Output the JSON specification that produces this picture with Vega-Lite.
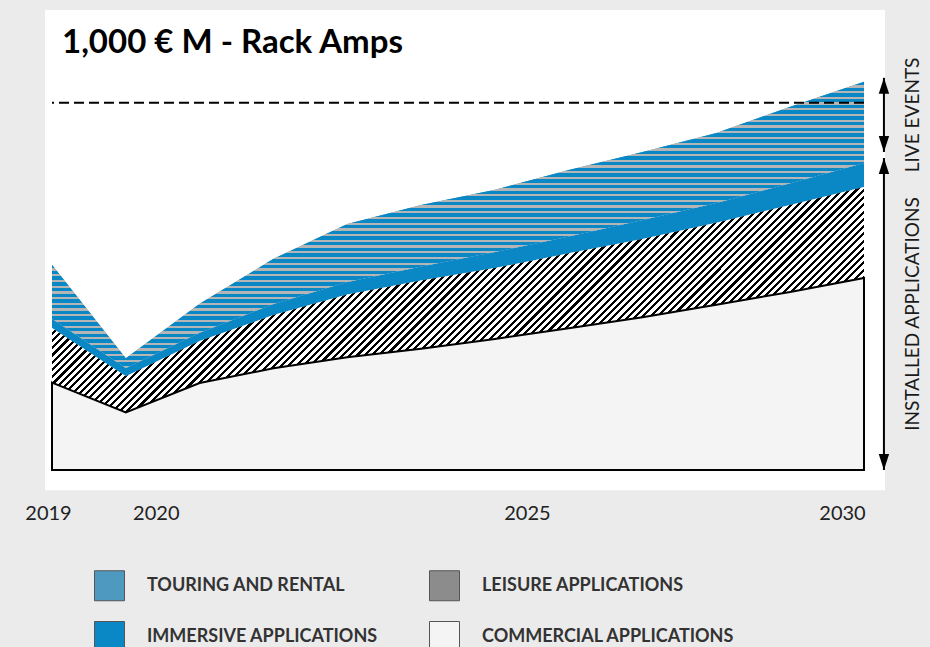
{
"$schema": "https://vega.github.io/schema/vega-lite/v6.json",
"width": 812,
"height": 459,
"autosize": {"type": "none"},
"padding": {"left": 52, "top": 11, "right": 66, "bottom": 177},
"background": "#ebebeb",
"title": {"text": "1,000 € M - Rack Amps", "anchor": "start", "frame": "group", "orient": "top", "font": "Lato", "fontSize": 33, "fontWeight": "bold", "color": "#000000", "offset": 0, "baseline": "alphabetic", "dx": 10, "dy": 76},
"config": {"view": {"stroke": null}, "font": "Lato"},
"resolve": {"axis": {"x": "independent", "y": "independent"}},
"datasets": {
"main": [
{"year": 2019, "series": "COMMERCIAL APPLICATIONS", "rank": 1, "value": 238},
{"year": 2019, "series": "LEISURE APPLICATIONS", "rank": 2, "value": 149},
{"year": 2019, "series": "IMMERSIVE APPLICATIONS", "rank": 3, "value": 25},
{"year": 2019, "series": "TOURING AND RENTAL", "rank": 4, "value": 147},
{"year": 2020, "series": "COMMERCIAL APPLICATIONS", "rank": 1, "value": 157},
{"year": 2020, "series": "LEISURE APPLICATIONS", "rank": 2, "value": 98},
{"year": 2020, "series": "IMMERSIVE APPLICATIONS", "rank": 3, "value": 23},
{"year": 2020, "series": "TOURING AND RENTAL", "rank": 4, "value": 26},
{"year": 2021, "series": "COMMERCIAL APPLICATIONS", "rank": 1, "value": 237},
{"year": 2021, "series": "LEISURE APPLICATIONS", "rank": 2, "value": 114},
{"year": 2021, "series": "IMMERSIVE APPLICATIONS", "rank": 3, "value": 23},
{"year": 2021, "series": "TOURING AND RENTAL", "rank": 4, "value": 79},
{"year": 2022, "series": "COMMERCIAL APPLICATIONS", "rank": 1, "value": 277},
{"year": 2022, "series": "LEISURE APPLICATIONS", "rank": 2, "value": 145},
{"year": 2022, "series": "IMMERSIVE APPLICATIONS", "rank": 3, "value": 30},
{"year": 2022, "series": "TOURING AND RENTAL", "rank": 4, "value": 123},
{"year": 2023, "series": "COMMERCIAL APPLICATIONS", "rank": 1, "value": 307},
{"year": 2023, "series": "LEISURE APPLICATIONS", "rank": 2, "value": 171},
{"year": 2023, "series": "IMMERSIVE APPLICATIONS", "rank": 3, "value": 34},
{"year": 2023, "series": "TOURING AND RENTAL", "rank": 4, "value": 158},
{"year": 2024, "series": "COMMERCIAL APPLICATIONS", "rank": 1, "value": 330},
{"year": 2024, "series": "LEISURE APPLICATIONS", "rank": 2, "value": 186},
{"year": 2024, "series": "IMMERSIVE APPLICATIONS", "rank": 3, "value": 38},
{"year": 2024, "series": "TOURING AND RENTAL", "rank": 4, "value": 168},
{"year": 2025, "series": "COMMERCIAL APPLICATIONS", "rank": 1, "value": 357},
{"year": 2025, "series": "LEISURE APPLICATIONS", "rank": 2, "value": 193},
{"year": 2025, "series": "IMMERSIVE APPLICATIONS", "rank": 3, "value": 44},
{"year": 2025, "series": "TOURING AND RENTAL", "rank": 4, "value": 169},
{"year": 2026, "series": "COMMERCIAL APPLICATIONS", "rank": 1, "value": 386},
{"year": 2026, "series": "LEISURE APPLICATIONS", "rank": 2, "value": 204},
{"year": 2026, "series": "IMMERSIVE APPLICATIONS", "rank": 3, "value": 46},
{"year": 2026, "series": "TOURING AND RENTAL", "rank": 4, "value": 181},
{"year": 2027, "series": "COMMERCIAL APPLICATIONS", "rank": 1, "value": 416},
{"year": 2027, "series": "LEISURE APPLICATIONS", "rank": 2, "value": 213},
{"year": 2027, "series": "IMMERSIVE APPLICATIONS", "rank": 3, "value": 52},
{"year": 2027, "series": "TOURING AND RENTAL", "rank": 4, "value": 185},
{"year": 2028, "series": "COMMERCIAL APPLICATIONS", "rank": 1, "value": 450},
{"year": 2028, "series": "LEISURE APPLICATIONS", "rank": 2, "value": 223},
{"year": 2028, "series": "IMMERSIVE APPLICATIONS", "rank": 3, "value": 54},
{"year": 2028, "series": "TOURING AND RENTAL", "rank": 4, "value": 191},
{"year": 2029, "series": "COMMERCIAL APPLICATIONS", "rank": 1, "value": 485},
{"year": 2029, "series": "LEISURE APPLICATIONS", "rank": 2, "value": 237},
{"year": 2029, "series": "IMMERSIVE APPLICATIONS", "rank": 3, "value": 59},
{"year": 2029, "series": "TOURING AND RENTAL", "rank": 4, "value": 208},
{"year": 2030, "series": "COMMERCIAL APPLICATIONS", "rank": 1, "value": 523},
{"year": 2030, "series": "LEISURE APPLICATIONS", "rank": 2, "value": 248},
{"year": 2030, "series": "IMMERSIVE APPLICATIONS", "rank": 3, "value": 65},
{"year": 2030, "series": "TOURING AND RENTAL", "rank": 4, "value": 221}
],
"notes": [
{"label": "LIVE EVENTS", "lo": 866, "hi": 1068},
{"label": "INSTALLED APPLICATIONS", "lo": 0, "hi": 850}
]
},
"layer": [
{
"data": {"values": [{}]},
"mark": {"type": "rect", "color": "#ffffff"},
"encoding": {
"x": {"datum": 2018.905, "type": "quantitative", "scale": {"domain": [2019, 2030], "nice": false, "zero": false},
"axis": {"values": [2019, 2020, 2025, 2030], "format": "d", "title": null, "ticks": false, "domain": false, "grid": false, "labelFont": "Lato", "labelFontSize": 20, "labelColor": "#222222", "labelFlush": false, "labelOverlap": false, "labelPadding": 33,
"labelOffset": {"condition": [{"test": "datum.value == 2019", "value": -4}, {"test": "datum.value == 2020", "value": 30}, {"test": "datum.value == 2025", "value": 32}], "value": -22}}},
"x2": {"datum": 2030.284},
"y": {"datum": 1253, "type": "quantitative", "scale": {"domain": [0, 1250], "nice": false, "zero": false}, "axis": null},
"y2": {"datum": -55}
}
},
{
"data": {"name": "main"},
"transform": [{"stack": "value", "groupby": ["year"], "sort": [{"field": "rank", "order": "ascending"}], "as": ["v0", "v1"]}],
"layer": [
{
"mark": {"type": "area", "interpolate": "linear"},
"encoding": {
"x": {"field": "year", "type": "quantitative", "scale": {"domain": [2019, 2030], "nice": false, "zero": false}, "axis": null},
"y": {"field": "v1", "type": "quantitative", "scale": {"domain": [0, 1250], "nice": false, "zero": false}, "axis": null},
"y2": {"field": "v0"},
"color": {"field": "series", "type": "nominal",
"scale": {"domain": ["TOURING AND RENTAL", "IMMERSIVE APPLICATIONS", "LEISURE APPLICATIONS", "COMMERCIAL APPLICATIONS"], "range": ["#4e99bf", "#0a87c5", "#8c8c8c", "#f4f4f4"]},
"legend": {"orient": "none", "legendX": 42, "legendY": 559, "columns": 2, "title": null, "padding": 0, "symbolType": "square", "symbolSize": 900, "symbolStrokeColor": "#555555", "symbolStrokeWidth": 1, "symbolOpacity": 1, "labelFont": "Lato", "labelFontWeight": "bold", "labelFontSize": 18, "labelColor": "#333333", "labelOffset": 22, "labelLimit": 400, "rowPadding": 16, "columnPadding": 49}
}
}
},
{
"transform": [{"filter": "datum.series === 'TOURING AND RENTAL'"}],
"mark": {"type": "area", "interpolate": "linear", "fill": {"gradient": "linear", "x1": 0, "y1": 0, "x2": 0, "y2": 1, "stops": [
{"offset":0,"color":"#0a87c5"},{"offset":0.012,"color":"#0a87c5"},{"offset":0.012,"color":"#b5b5b5"},{"offset":0.02,"color":"#b5b5b5"},
{"offset":0.02,"color":"#0a87c5"},{"offset":0.032,"color":"#0a87c5"},{"offset":0.032,"color":"#b5b5b5"},{"offset":0.04,"color":"#b5b5b5"},
{"offset":0.04,"color":"#0a87c5"},{"offset":0.052,"color":"#0a87c5"},{"offset":0.052,"color":"#b5b5b5"},{"offset":0.06,"color":"#b5b5b5"},
{"offset":0.06,"color":"#0a87c5"},{"offset":0.072,"color":"#0a87c5"},{"offset":0.072,"color":"#b5b5b5"},{"offset":0.08,"color":"#b5b5b5"},
{"offset":0.08,"color":"#0a87c5"},{"offset":0.092,"color":"#0a87c5"},{"offset":0.092,"color":"#b5b5b5"},{"offset":0.1,"color":"#b5b5b5"},
{"offset":0.1,"color":"#0a87c5"},{"offset":0.112,"color":"#0a87c5"},{"offset":0.112,"color":"#b5b5b5"},{"offset":0.12,"color":"#b5b5b5"},
{"offset":0.12,"color":"#0a87c5"},{"offset":0.132,"color":"#0a87c5"},{"offset":0.132,"color":"#b5b5b5"},{"offset":0.14,"color":"#b5b5b5"},
{"offset":0.14,"color":"#0a87c5"},{"offset":0.152,"color":"#0a87c5"},{"offset":0.152,"color":"#b5b5b5"},{"offset":0.16,"color":"#b5b5b5"},
{"offset":0.16,"color":"#0a87c5"},{"offset":0.172,"color":"#0a87c5"},{"offset":0.172,"color":"#b5b5b5"},{"offset":0.18,"color":"#b5b5b5"},
{"offset":0.18,"color":"#0a87c5"},{"offset":0.192,"color":"#0a87c5"},{"offset":0.192,"color":"#b5b5b5"},{"offset":0.2,"color":"#b5b5b5"},
{"offset":0.2,"color":"#0a87c5"},{"offset":0.212,"color":"#0a87c5"},{"offset":0.212,"color":"#b5b5b5"},{"offset":0.22,"color":"#b5b5b5"},
{"offset":0.22,"color":"#0a87c5"},{"offset":0.232,"color":"#0a87c5"},{"offset":0.232,"color":"#b5b5b5"},{"offset":0.24,"color":"#b5b5b5"},
{"offset":0.24,"color":"#0a87c5"},{"offset":0.252,"color":"#0a87c5"},{"offset":0.252,"color":"#b5b5b5"},{"offset":0.26,"color":"#b5b5b5"},
{"offset":0.26,"color":"#0a87c5"},{"offset":0.272,"color":"#0a87c5"},{"offset":0.272,"color":"#b5b5b5"},{"offset":0.28,"color":"#b5b5b5"},
{"offset":0.28,"color":"#0a87c5"},{"offset":0.292,"color":"#0a87c5"},{"offset":0.292,"color":"#b5b5b5"},{"offset":0.3,"color":"#b5b5b5"},
{"offset":0.3,"color":"#0a87c5"},{"offset":0.312,"color":"#0a87c5"},{"offset":0.312,"color":"#b5b5b5"},{"offset":0.32,"color":"#b5b5b5"},
{"offset":0.32,"color":"#0a87c5"},{"offset":0.332,"color":"#0a87c5"},{"offset":0.332,"color":"#b5b5b5"},{"offset":0.34,"color":"#b5b5b5"},
{"offset":0.34,"color":"#0a87c5"},{"offset":0.352,"color":"#0a87c5"},{"offset":0.352,"color":"#b5b5b5"},{"offset":0.36,"color":"#b5b5b5"},
{"offset":0.36,"color":"#0a87c5"},{"offset":0.372,"color":"#0a87c5"},{"offset":0.372,"color":"#b5b5b5"},{"offset":0.38,"color":"#b5b5b5"},
{"offset":0.38,"color":"#0a87c5"},{"offset":0.392,"color":"#0a87c5"},{"offset":0.392,"color":"#b5b5b5"},{"offset":0.4,"color":"#b5b5b5"},
{"offset":0.4,"color":"#0a87c5"},{"offset":0.412,"color":"#0a87c5"},{"offset":0.412,"color":"#b5b5b5"},{"offset":0.42,"color":"#b5b5b5"},
{"offset":0.42,"color":"#0a87c5"},{"offset":0.432,"color":"#0a87c5"},{"offset":0.432,"color":"#b5b5b5"},{"offset":0.44,"color":"#b5b5b5"},
{"offset":0.44,"color":"#0a87c5"},{"offset":0.452,"color":"#0a87c5"},{"offset":0.452,"color":"#b5b5b5"},{"offset":0.46,"color":"#b5b5b5"},
{"offset":0.46,"color":"#0a87c5"},{"offset":0.472,"color":"#0a87c5"},{"offset":0.472,"color":"#b5b5b5"},{"offset":0.48,"color":"#b5b5b5"},
{"offset":0.48,"color":"#0a87c5"},{"offset":0.492,"color":"#0a87c5"},{"offset":0.492,"color":"#b5b5b5"},{"offset":0.5,"color":"#b5b5b5"},
{"offset":0.5,"color":"#0a87c5"},{"offset":0.512,"color":"#0a87c5"},{"offset":0.512,"color":"#b5b5b5"},{"offset":0.52,"color":"#b5b5b5"},
{"offset":0.52,"color":"#0a87c5"},{"offset":0.532,"color":"#0a87c5"},{"offset":0.532,"color":"#b5b5b5"},{"offset":0.54,"color":"#b5b5b5"},
{"offset":0.54,"color":"#0a87c5"},{"offset":0.552,"color":"#0a87c5"},{"offset":0.552,"color":"#b5b5b5"},{"offset":0.56,"color":"#b5b5b5"},
{"offset":0.56,"color":"#0a87c5"},{"offset":0.572,"color":"#0a87c5"},{"offset":0.572,"color":"#b5b5b5"},{"offset":0.58,"color":"#b5b5b5"},
{"offset":0.58,"color":"#0a87c5"},{"offset":0.592,"color":"#0a87c5"},{"offset":0.592,"color":"#b5b5b5"},{"offset":0.6,"color":"#b5b5b5"},
{"offset":0.6,"color":"#0a87c5"},{"offset":0.612,"color":"#0a87c5"},{"offset":0.612,"color":"#b5b5b5"},{"offset":0.62,"color":"#b5b5b5"},
{"offset":0.62,"color":"#0a87c5"},{"offset":0.632,"color":"#0a87c5"},{"offset":0.632,"color":"#b5b5b5"},{"offset":0.64,"color":"#b5b5b5"},
{"offset":0.64,"color":"#0a87c5"},{"offset":0.652,"color":"#0a87c5"},{"offset":0.652,"color":"#b5b5b5"},{"offset":0.66,"color":"#b5b5b5"},
{"offset":0.66,"color":"#0a87c5"},{"offset":0.672,"color":"#0a87c5"},{"offset":0.672,"color":"#b5b5b5"},{"offset":0.68,"color":"#b5b5b5"},
{"offset":0.68,"color":"#0a87c5"},{"offset":0.692,"color":"#0a87c5"},{"offset":0.692,"color":"#b5b5b5"},{"offset":0.7,"color":"#b5b5b5"},
{"offset":0.7,"color":"#0a87c5"},{"offset":0.712,"color":"#0a87c5"},{"offset":0.712,"color":"#b5b5b5"},{"offset":0.72,"color":"#b5b5b5"},
{"offset":0.72,"color":"#0a87c5"},{"offset":0.732,"color":"#0a87c5"},{"offset":0.732,"color":"#b5b5b5"},{"offset":0.74,"color":"#b5b5b5"},
{"offset":0.74,"color":"#0a87c5"},{"offset":0.752,"color":"#0a87c5"},{"offset":0.752,"color":"#b5b5b5"},{"offset":0.76,"color":"#b5b5b5"},
{"offset":0.76,"color":"#0a87c5"},{"offset":0.772,"color":"#0a87c5"},{"offset":0.772,"color":"#b5b5b5"},{"offset":0.78,"color":"#b5b5b5"},
{"offset":0.78,"color":"#0a87c5"},{"offset":0.792,"color":"#0a87c5"},{"offset":0.792,"color":"#b5b5b5"},{"offset":0.8,"color":"#b5b5b5"},
{"offset":0.8,"color":"#0a87c5"},{"offset":0.812,"color":"#0a87c5"},{"offset":0.812,"color":"#b5b5b5"},{"offset":0.82,"color":"#b5b5b5"},
{"offset":0.82,"color":"#0a87c5"},{"offset":0.832,"color":"#0a87c5"},{"offset":0.832,"color":"#b5b5b5"},{"offset":0.84,"color":"#b5b5b5"},
{"offset":0.84,"color":"#0a87c5"},{"offset":0.852,"color":"#0a87c5"},{"offset":0.852,"color":"#b5b5b5"},{"offset":0.86,"color":"#b5b5b5"},
{"offset":0.86,"color":"#0a87c5"},{"offset":0.872,"color":"#0a87c5"},{"offset":0.872,"color":"#b5b5b5"},{"offset":0.88,"color":"#b5b5b5"},
{"offset":0.88,"color":"#0a87c5"},{"offset":0.892,"color":"#0a87c5"},{"offset":0.892,"color":"#b5b5b5"},{"offset":0.9,"color":"#b5b5b5"},
{"offset":0.9,"color":"#0a87c5"},{"offset":0.912,"color":"#0a87c5"},{"offset":0.912,"color":"#b5b5b5"},{"offset":0.92,"color":"#b5b5b5"},
{"offset":0.92,"color":"#0a87c5"},{"offset":0.932,"color":"#0a87c5"},{"offset":0.932,"color":"#b5b5b5"},{"offset":0.94,"color":"#b5b5b5"},
{"offset":0.94,"color":"#0a87c5"},{"offset":0.952,"color":"#0a87c5"},{"offset":0.952,"color":"#b5b5b5"},{"offset":0.96,"color":"#b5b5b5"},
{"offset":0.96,"color":"#0a87c5"},{"offset":0.972,"color":"#0a87c5"},{"offset":0.972,"color":"#b5b5b5"},{"offset":0.98,"color":"#b5b5b5"},
{"offset":0.98,"color":"#0a87c5"},{"offset":0.992,"color":"#0a87c5"},{"offset":0.992,"color":"#b5b5b5"},{"offset":1,"color":"#b5b5b5"}
]}},
"encoding": {
"x": {"field": "year", "type": "quantitative", "scale": {"domain": [2019, 2030], "nice": false, "zero": false}, "axis": null},
"y": {"field": "v1", "type": "quantitative", "scale": {"domain": [0, 1250], "nice": false, "zero": false}, "axis": null},
"y2": {"field": "v0"}
}
},
{
"transform": [{"filter": "datum.series === 'LEISURE APPLICATIONS'"}],
"mark": {"type": "area", "interpolate": "linear", "fill": {"gradient": "linear", "x1": 0, "y1": 0, "x2": 1.1862, "y2": 0.3293, "stops": [
{"offset":0.119,"color":"#000"},{"offset":0.122,"color":"#000"},{"offset":0.122,"color":"#fff"},{"offset":0.126,"color":"#fff"},
{"offset":0.126,"color":"#000"},{"offset":0.129,"color":"#000"},{"offset":0.129,"color":"#fff"},{"offset":0.133,"color":"#fff"},
{"offset":0.133,"color":"#000"},{"offset":0.136,"color":"#000"},{"offset":0.136,"color":"#fff"},{"offset":0.14,"color":"#fff"},
{"offset":0.14,"color":"#000"},{"offset":0.143,"color":"#000"},{"offset":0.143,"color":"#fff"},{"offset":0.147,"color":"#fff"},
{"offset":0.147,"color":"#000"},{"offset":0.15,"color":"#000"},{"offset":0.15,"color":"#fff"},{"offset":0.154,"color":"#fff"},
{"offset":0.154,"color":"#000"},{"offset":0.157,"color":"#000"},{"offset":0.157,"color":"#fff"},{"offset":0.161,"color":"#fff"},
{"offset":0.161,"color":"#000"},{"offset":0.164,"color":"#000"},{"offset":0.164,"color":"#fff"},{"offset":0.168,"color":"#fff"},
{"offset":0.168,"color":"#000"},{"offset":0.171,"color":"#000"},{"offset":0.171,"color":"#fff"},{"offset":0.175,"color":"#fff"},
{"offset":0.175,"color":"#000"},{"offset":0.178,"color":"#000"},{"offset":0.178,"color":"#fff"},{"offset":0.182,"color":"#fff"},
{"offset":0.182,"color":"#000"},{"offset":0.185,"color":"#000"},{"offset":0.185,"color":"#fff"},{"offset":0.189,"color":"#fff"},
{"offset":0.189,"color":"#000"},{"offset":0.192,"color":"#000"},{"offset":0.192,"color":"#fff"},{"offset":0.196,"color":"#fff"},
{"offset":0.196,"color":"#000"},{"offset":0.199,"color":"#000"},{"offset":0.199,"color":"#fff"},{"offset":0.203,"color":"#fff"},
{"offset":0.203,"color":"#000"},{"offset":0.206,"color":"#000"},{"offset":0.206,"color":"#fff"},{"offset":0.21,"color":"#fff"},
{"offset":0.21,"color":"#000"},{"offset":0.213,"color":"#000"},{"offset":0.213,"color":"#fff"},{"offset":0.217,"color":"#fff"},
{"offset":0.217,"color":"#000"},{"offset":0.22,"color":"#000"},{"offset":0.22,"color":"#fff"},{"offset":0.224,"color":"#fff"},
{"offset":0.224,"color":"#000"},{"offset":0.227,"color":"#000"},{"offset":0.227,"color":"#fff"},{"offset":0.231,"color":"#fff"},
{"offset":0.231,"color":"#000"},{"offset":0.234,"color":"#000"},{"offset":0.234,"color":"#fff"},{"offset":0.238,"color":"#fff"},
{"offset":0.238,"color":"#000"},{"offset":0.241,"color":"#000"},{"offset":0.241,"color":"#fff"},{"offset":0.245,"color":"#fff"},
{"offset":0.245,"color":"#000"},{"offset":0.248,"color":"#000"},{"offset":0.248,"color":"#fff"},{"offset":0.252,"color":"#fff"},
{"offset":0.252,"color":"#000"},{"offset":0.255,"color":"#000"},{"offset":0.255,"color":"#fff"},{"offset":0.259,"color":"#fff"},
{"offset":0.259,"color":"#000"},{"offset":0.262,"color":"#000"},{"offset":0.262,"color":"#fff"},{"offset":0.266,"color":"#fff"},
{"offset":0.266,"color":"#000"},{"offset":0.269,"color":"#000"},{"offset":0.269,"color":"#fff"},{"offset":0.273,"color":"#fff"},
{"offset":0.273,"color":"#000"},{"offset":0.276,"color":"#000"},{"offset":0.276,"color":"#fff"},{"offset":0.28,"color":"#fff"},
{"offset":0.28,"color":"#000"},{"offset":0.283,"color":"#000"},{"offset":0.283,"color":"#fff"},{"offset":0.287,"color":"#fff"},
{"offset":0.287,"color":"#000"},{"offset":0.29,"color":"#000"},{"offset":0.29,"color":"#fff"},{"offset":0.294,"color":"#fff"},
{"offset":0.294,"color":"#000"},{"offset":0.297,"color":"#000"},{"offset":0.297,"color":"#fff"},{"offset":0.301,"color":"#fff"},
{"offset":0.301,"color":"#000"},{"offset":0.304,"color":"#000"},{"offset":0.304,"color":"#fff"},{"offset":0.308,"color":"#fff"},
{"offset":0.308,"color":"#000"},{"offset":0.311,"color":"#000"},{"offset":0.311,"color":"#fff"},{"offset":0.315,"color":"#fff"},
{"offset":0.315,"color":"#000"},{"offset":0.318,"color":"#000"},{"offset":0.318,"color":"#fff"},{"offset":0.322,"color":"#fff"},
{"offset":0.322,"color":"#000"},{"offset":0.325,"color":"#000"},{"offset":0.325,"color":"#fff"},{"offset":0.329,"color":"#fff"},
{"offset":0.329,"color":"#000"},{"offset":0.332,"color":"#000"},{"offset":0.332,"color":"#fff"},{"offset":0.336,"color":"#fff"},
{"offset":0.336,"color":"#000"},{"offset":0.339,"color":"#000"},{"offset":0.339,"color":"#fff"},{"offset":0.343,"color":"#fff"},
{"offset":0.343,"color":"#000"},{"offset":0.346,"color":"#000"},{"offset":0.346,"color":"#fff"},{"offset":0.35,"color":"#fff"},
{"offset":0.35,"color":"#000"},{"offset":0.353,"color":"#000"},{"offset":0.353,"color":"#fff"},{"offset":0.357,"color":"#fff"},
{"offset":0.357,"color":"#000"},{"offset":0.36,"color":"#000"},{"offset":0.36,"color":"#fff"},{"offset":0.364,"color":"#fff"},
{"offset":0.364,"color":"#000"},{"offset":0.367,"color":"#000"},{"offset":0.367,"color":"#fff"},{"offset":0.371,"color":"#fff"},
{"offset":0.371,"color":"#000"},{"offset":0.374,"color":"#000"},{"offset":0.374,"color":"#fff"},{"offset":0.378,"color":"#fff"},
{"offset":0.378,"color":"#000"},{"offset":0.381,"color":"#000"},{"offset":0.381,"color":"#fff"},{"offset":0.385,"color":"#fff"},
{"offset":0.385,"color":"#000"},{"offset":0.388,"color":"#000"},{"offset":0.388,"color":"#fff"},{"offset":0.392,"color":"#fff"},
{"offset":0.392,"color":"#000"},{"offset":0.395,"color":"#000"},{"offset":0.395,"color":"#fff"},{"offset":0.399,"color":"#fff"},
{"offset":0.399,"color":"#000"},{"offset":0.402,"color":"#000"},{"offset":0.402,"color":"#fff"},{"offset":0.406,"color":"#fff"},
{"offset":0.406,"color":"#000"},{"offset":0.409,"color":"#000"},{"offset":0.409,"color":"#fff"},{"offset":0.413,"color":"#fff"},
{"offset":0.413,"color":"#000"},{"offset":0.416,"color":"#000"},{"offset":0.416,"color":"#fff"},{"offset":0.42,"color":"#fff"},
{"offset":0.42,"color":"#000"},{"offset":0.423,"color":"#000"},{"offset":0.423,"color":"#fff"},{"offset":0.427,"color":"#fff"},
{"offset":0.427,"color":"#000"},{"offset":0.43,"color":"#000"},{"offset":0.43,"color":"#fff"},{"offset":0.434,"color":"#fff"},
{"offset":0.434,"color":"#000"},{"offset":0.437,"color":"#000"},{"offset":0.437,"color":"#fff"},{"offset":0.441,"color":"#fff"},
{"offset":0.441,"color":"#000"},{"offset":0.444,"color":"#000"},{"offset":0.444,"color":"#fff"},{"offset":0.448,"color":"#fff"},
{"offset":0.448,"color":"#000"},{"offset":0.451,"color":"#000"},{"offset":0.451,"color":"#fff"},{"offset":0.455,"color":"#fff"},
{"offset":0.455,"color":"#000"},{"offset":0.458,"color":"#000"},{"offset":0.458,"color":"#fff"},{"offset":0.462,"color":"#fff"},
{"offset":0.462,"color":"#000"},{"offset":0.465,"color":"#000"},{"offset":0.465,"color":"#fff"},{"offset":0.469,"color":"#fff"},
{"offset":0.469,"color":"#000"},{"offset":0.472,"color":"#000"},{"offset":0.472,"color":"#fff"},{"offset":0.476,"color":"#fff"},
{"offset":0.476,"color":"#000"},{"offset":0.479,"color":"#000"},{"offset":0.479,"color":"#fff"},{"offset":0.483,"color":"#fff"},
{"offset":0.483,"color":"#000"},{"offset":0.486,"color":"#000"},{"offset":0.486,"color":"#fff"},{"offset":0.49,"color":"#fff"},
{"offset":0.49,"color":"#000"},{"offset":0.493,"color":"#000"},{"offset":0.493,"color":"#fff"},{"offset":0.497,"color":"#fff"},
{"offset":0.497,"color":"#000"},{"offset":0.5,"color":"#000"},{"offset":0.5,"color":"#fff"},{"offset":0.504,"color":"#fff"},
{"offset":0.504,"color":"#000"},{"offset":0.507,"color":"#000"},{"offset":0.507,"color":"#fff"},{"offset":0.511,"color":"#fff"},
{"offset":0.511,"color":"#000"},{"offset":0.514,"color":"#000"},{"offset":0.514,"color":"#fff"},{"offset":0.518,"color":"#fff"},
{"offset":0.518,"color":"#000"},{"offset":0.521,"color":"#000"},{"offset":0.521,"color":"#fff"},{"offset":0.525,"color":"#fff"},
{"offset":0.525,"color":"#000"},{"offset":0.528,"color":"#000"},{"offset":0.528,"color":"#fff"},{"offset":0.532,"color":"#fff"},
{"offset":0.532,"color":"#000"},{"offset":0.535,"color":"#000"},{"offset":0.535,"color":"#fff"},{"offset":0.539,"color":"#fff"},
{"offset":0.539,"color":"#000"},{"offset":0.542,"color":"#000"},{"offset":0.542,"color":"#fff"},{"offset":0.546,"color":"#fff"},
{"offset":0.546,"color":"#000"},{"offset":0.549,"color":"#000"},{"offset":0.549,"color":"#fff"},{"offset":0.553,"color":"#fff"},
{"offset":0.553,"color":"#000"},{"offset":0.556,"color":"#000"},{"offset":0.556,"color":"#fff"},{"offset":0.56,"color":"#fff"},
{"offset":0.56,"color":"#000"},{"offset":0.563,"color":"#000"},{"offset":0.563,"color":"#fff"},{"offset":0.567,"color":"#fff"},
{"offset":0.567,"color":"#000"},{"offset":0.57,"color":"#000"},{"offset":0.57,"color":"#fff"},{"offset":0.574,"color":"#fff"},
{"offset":0.574,"color":"#000"},{"offset":0.577,"color":"#000"},{"offset":0.577,"color":"#fff"},{"offset":0.581,"color":"#fff"},
{"offset":0.581,"color":"#000"},{"offset":0.584,"color":"#000"},{"offset":0.584,"color":"#fff"},{"offset":0.588,"color":"#fff"},
{"offset":0.588,"color":"#000"},{"offset":0.591,"color":"#000"},{"offset":0.591,"color":"#fff"},{"offset":0.595,"color":"#fff"},
{"offset":0.595,"color":"#000"},{"offset":0.598,"color":"#000"},{"offset":0.598,"color":"#fff"},{"offset":0.602,"color":"#fff"},
{"offset":0.602,"color":"#000"},{"offset":0.605,"color":"#000"},{"offset":0.605,"color":"#fff"},{"offset":0.609,"color":"#fff"},
{"offset":0.609,"color":"#000"},{"offset":0.612,"color":"#000"},{"offset":0.612,"color":"#fff"},{"offset":0.616,"color":"#fff"},
{"offset":0.616,"color":"#000"},{"offset":0.619,"color":"#000"},{"offset":0.619,"color":"#fff"},{"offset":0.623,"color":"#fff"},
{"offset":0.623,"color":"#000"},{"offset":0.626,"color":"#000"},{"offset":0.626,"color":"#fff"},{"offset":0.63,"color":"#fff"},
{"offset":0.63,"color":"#000"},{"offset":0.633,"color":"#000"},{"offset":0.633,"color":"#fff"},{"offset":0.637,"color":"#fff"},
{"offset":0.637,"color":"#000"},{"offset":0.64,"color":"#000"},{"offset":0.64,"color":"#fff"},{"offset":0.644,"color":"#fff"},
{"offset":0.644,"color":"#000"},{"offset":0.647,"color":"#000"},{"offset":0.647,"color":"#fff"},{"offset":0.651,"color":"#fff"},
{"offset":0.651,"color":"#000"},{"offset":0.654,"color":"#000"},{"offset":0.654,"color":"#fff"},{"offset":0.658,"color":"#fff"},
{"offset":0.658,"color":"#000"},{"offset":0.661,"color":"#000"},{"offset":0.661,"color":"#fff"},{"offset":0.665,"color":"#fff"},
{"offset":0.665,"color":"#000"},{"offset":0.668,"color":"#000"},{"offset":0.668,"color":"#fff"},{"offset":0.672,"color":"#fff"},
{"offset":0.672,"color":"#000"},{"offset":0.675,"color":"#000"},{"offset":0.675,"color":"#fff"},{"offset":0.679,"color":"#fff"},
{"offset":0.679,"color":"#000"},{"offset":0.682,"color":"#000"},{"offset":0.682,"color":"#fff"},{"offset":0.686,"color":"#fff"},
{"offset":0.686,"color":"#000"},{"offset":0.689,"color":"#000"},{"offset":0.689,"color":"#fff"},{"offset":0.693,"color":"#fff"},
{"offset":0.693,"color":"#000"},{"offset":0.696,"color":"#000"},{"offset":0.696,"color":"#fff"},{"offset":0.7,"color":"#fff"},
{"offset":0.7,"color":"#000"},{"offset":0.703,"color":"#000"},{"offset":0.703,"color":"#fff"},{"offset":0.707,"color":"#fff"},
{"offset":0.707,"color":"#000"},{"offset":0.71,"color":"#000"},{"offset":0.71,"color":"#fff"},{"offset":0.714,"color":"#fff"},
{"offset":0.714,"color":"#000"},{"offset":0.717,"color":"#000"},{"offset":0.717,"color":"#fff"},{"offset":0.721,"color":"#fff"},
{"offset":0.721,"color":"#000"},{"offset":0.724,"color":"#000"},{"offset":0.724,"color":"#fff"},{"offset":0.728,"color":"#fff"},
{"offset":0.728,"color":"#000"},{"offset":0.731,"color":"#000"},{"offset":0.731,"color":"#fff"},{"offset":0.735,"color":"#fff"},
{"offset":0.735,"color":"#000"},{"offset":0.738,"color":"#000"},{"offset":0.738,"color":"#fff"},{"offset":0.742,"color":"#fff"},
{"offset":0.742,"color":"#000"},{"offset":0.745,"color":"#000"},{"offset":0.745,"color":"#fff"},{"offset":0.749,"color":"#fff"},
{"offset":0.749,"color":"#000"},{"offset":0.752,"color":"#000"},{"offset":0.752,"color":"#fff"},{"offset":0.756,"color":"#fff"},
{"offset":0.756,"color":"#000"},{"offset":0.759,"color":"#000"},{"offset":0.759,"color":"#fff"},{"offset":0.763,"color":"#fff"},
{"offset":0.763,"color":"#000"},{"offset":0.766,"color":"#000"},{"offset":0.766,"color":"#fff"},{"offset":0.77,"color":"#fff"},
{"offset":0.77,"color":"#000"},{"offset":0.773,"color":"#000"},{"offset":0.773,"color":"#fff"},{"offset":0.777,"color":"#fff"},
{"offset":0.777,"color":"#000"},{"offset":0.78,"color":"#000"},{"offset":0.78,"color":"#fff"},{"offset":0.784,"color":"#fff"},
{"offset":0.784,"color":"#000"},{"offset":0.787,"color":"#000"},{"offset":0.787,"color":"#fff"},{"offset":0.791,"color":"#fff"},
{"offset":0.791,"color":"#000"},{"offset":0.794,"color":"#000"},{"offset":0.794,"color":"#fff"},{"offset":0.798,"color":"#fff"},
{"offset":0.798,"color":"#000"},{"offset":0.801,"color":"#000"},{"offset":0.801,"color":"#fff"},{"offset":0.805,"color":"#fff"},
{"offset":0.805,"color":"#000"},{"offset":0.808,"color":"#000"},{"offset":0.808,"color":"#fff"},{"offset":0.812,"color":"#fff"},
{"offset":0.812,"color":"#000"},{"offset":0.815,"color":"#000"},{"offset":0.815,"color":"#fff"},{"offset":0.819,"color":"#fff"},
{"offset":0.819,"color":"#000"},{"offset":0.822,"color":"#000"},{"offset":0.822,"color":"#fff"},{"offset":0.826,"color":"#fff"},
{"offset":0.826,"color":"#000"},{"offset":0.829,"color":"#000"},{"offset":0.829,"color":"#fff"},{"offset":0.833,"color":"#fff"},
{"offset":0.833,"color":"#000"},{"offset":0.836,"color":"#000"},{"offset":0.836,"color":"#fff"},{"offset":0.84,"color":"#fff"},
{"offset":0.84,"color":"#000"},{"offset":0.843,"color":"#000"},{"offset":0.843,"color":"#fff"},{"offset":0.847,"color":"#fff"},
{"offset":0.847,"color":"#000"},{"offset":0.85,"color":"#000"},{"offset":0.85,"color":"#fff"},{"offset":0.854,"color":"#fff"},
{"offset":0.854,"color":"#000"},{"offset":0.857,"color":"#000"},{"offset":0.857,"color":"#fff"},{"offset":0.861,"color":"#fff"},
{"offset":0.861,"color":"#000"},{"offset":0.864,"color":"#000"},{"offset":0.864,"color":"#fff"},{"offset":0.868,"color":"#fff"},
{"offset":0.868,"color":"#000"},{"offset":0.871,"color":"#000"},{"offset":0.871,"color":"#fff"},{"offset":0.875,"color":"#fff"},
{"offset":0.875,"color":"#000"},{"offset":0.878,"color":"#000"},{"offset":0.878,"color":"#fff"},{"offset":0.882,"color":"#fff"},
{"offset":0.882,"color":"#000"},{"offset":0.885,"color":"#000"},{"offset":0.885,"color":"#fff"},{"offset":0.889,"color":"#fff"}
]}},
"encoding": {
"x": {"field": "year", "type": "quantitative", "scale": {"domain": [2019, 2030], "nice": false, "zero": false}, "axis": null},
"y": {"field": "v1", "type": "quantitative", "scale": {"domain": [0, 1250], "nice": false, "zero": false}, "axis": null},
"y2": {"field": "v0"}
}
},
{
"transform": [{"filter": "datum.series === 'COMMERCIAL APPLICATIONS'"}],
"mark": {"type": "area", "interpolate": "linear", "fillOpacity": 0, "stroke": "#000000", "strokeWidth": 2},
"encoding": {
"x": {"field": "year", "type": "quantitative", "scale": {"domain": [2019, 2030], "nice": false, "zero": false}, "axis": null},
"y": {"field": "v1", "type": "quantitative", "scale": {"domain": [0, 1250], "nice": false, "zero": false}, "axis": null},
"y2": {"field": "v0"}
}
}
]
},
{
"data": {"values": [{}]},
"mark": {"type": "rule", "color": "#000000", "strokeWidth": 2, "strokeDash": [10, 5]},
"encoding": {
"y": {"datum": 1000, "type": "quantitative", "scale": {"domain": [0, 1250], "nice": false, "zero": false}, "axis": null}
}
},
{
"data": {"name": "notes"},
"layer": [
{
"mark": {"type": "rule", "color": "#000000", "strokeWidth": 2},
"encoding": {
"x": {"datum": 2030.27, "type": "quantitative", "scale": {"domain": [2019, 2030], "nice": false, "zero": false}, "axis": null},
"y": {"field": "hi", "type": "quantitative", "scale": {"domain": [0, 1250], "nice": false, "zero": false}, "axis": null},
"y2": {"field": "lo"}
}
},
{
"mark": {"type": "point", "shape": "M0,-1L0.65,1L-0.65,1Z", "filled": true, "color": "#000000", "opacity": 1, "size": 256, "yOffset": 8},
"encoding": {
"x": {"datum": 2030.27, "type": "quantitative", "scale": {"domain": [2019, 2030], "nice": false, "zero": false}, "axis": null},
"y": {"field": "hi", "type": "quantitative", "scale": {"domain": [0, 1250], "nice": false, "zero": false}, "axis": null}
}
},
{
"mark": {"type": "point", "shape": "M0,1L0.65,-1L-0.65,-1Z", "filled": true, "color": "#000000", "opacity": 1, "size": 256, "yOffset": -8},
"encoding": {
"x": {"datum": 2030.27, "type": "quantitative", "scale": {"domain": [2019, 2030], "nice": false, "zero": false}, "axis": null},
"y": {"field": "lo", "type": "quantitative", "scale": {"domain": [0, 1250], "nice": false, "zero": false}, "axis": null}
}
},
{
"transform": [{"fold": ["lo", "hi"], "as": ["end", "v"]}],
"mark": {"type": "text", "angle": 270, "font": "Lato", "fontSize": 19, "color": "#1a1a1a", "align": "center", "baseline": "middle"},
"encoding": {
"x": {"datum": 2030.66, "type": "quantitative", "scale": {"domain": [2019, 2030], "nice": false, "zero": false}, "axis": null},
"y": {"aggregate": "mean", "field": "v", "type": "quantitative", "scale": {"domain": [0, 1250], "nice": false, "zero": false}, "axis": null},
"text": {"field": "label", "type": "nominal"}
}
}
]
}
]
}
